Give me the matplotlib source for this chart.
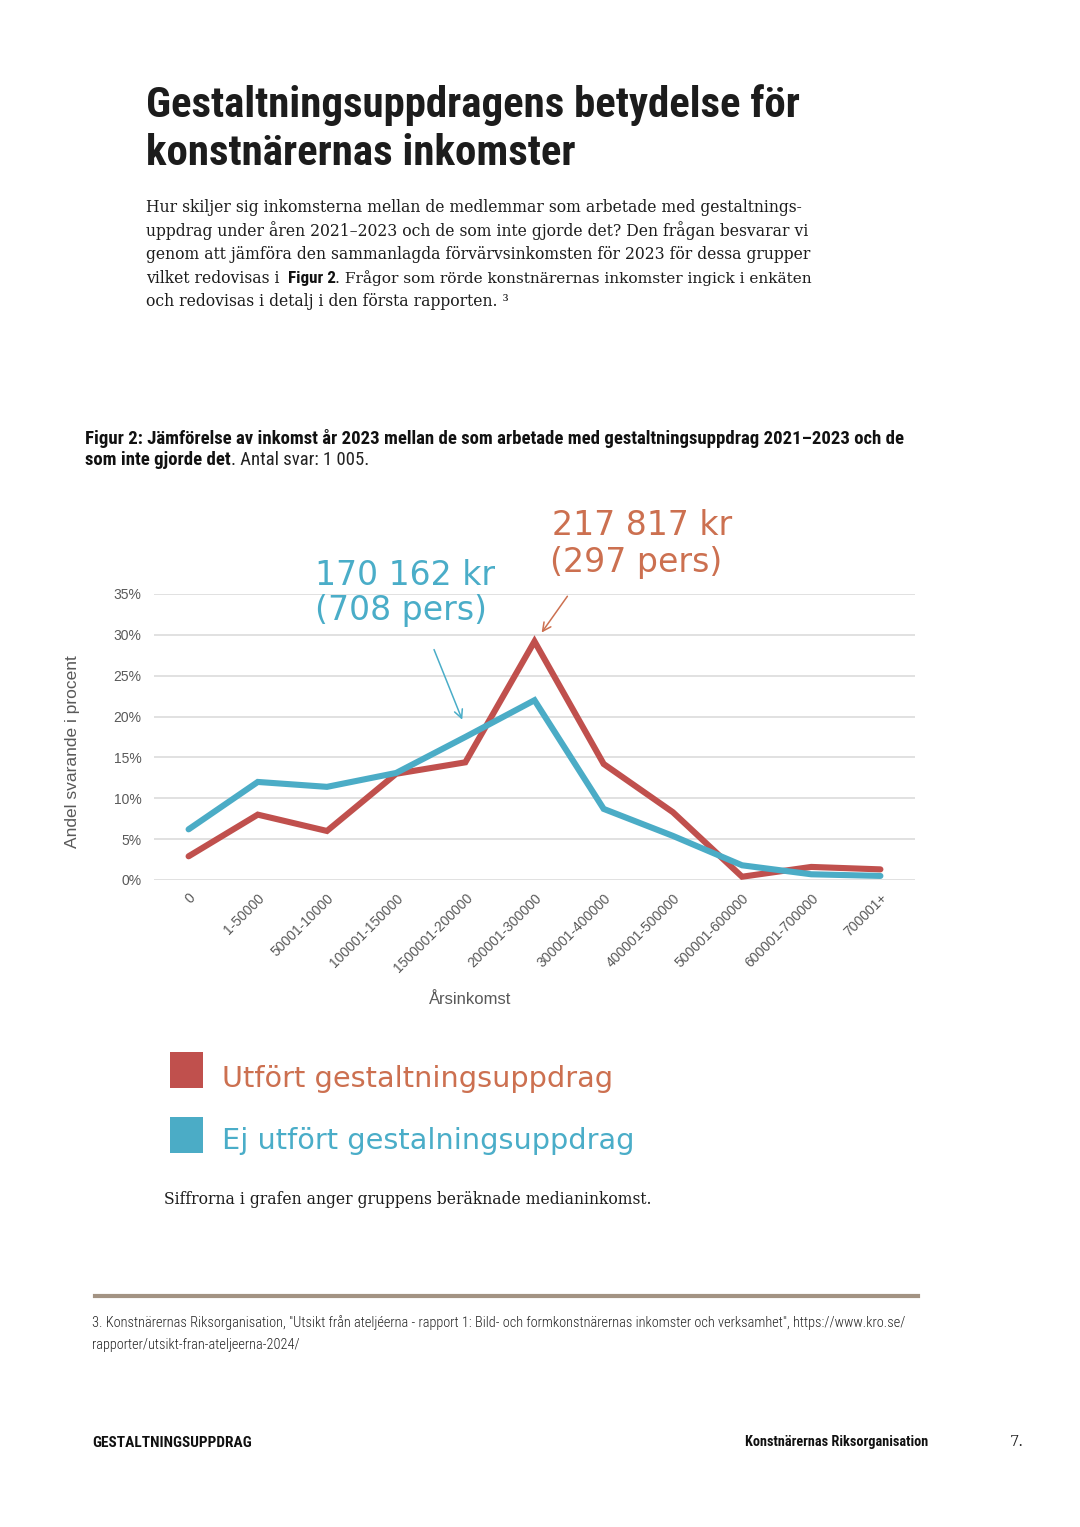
import numpy as np
import matplotlib
matplotlib.use('Agg')
import matplotlib.pyplot as plt
from matplotlib import font_manager as fm
from matplotlib.patches import Rectangle
from matplotlib.lines import Line2D

# Data (andel svarande i procent)
categories = ['0', '1-50000', '50001-10000', '100001-150000', '1500001-200000',
              '200001-300000', '300001-400000', '400001-500000', '500001-600000',
              '600001-700000', '700001+']
utfort = [2.9, 8.0, 6.0, 13.0, 14.4, 29.2, 14.2, 8.3, 0.4, 1.6, 1.3]
ej_utfort = [6.2, 12.0, 11.4, 13.1, 17.5, 22.0, 8.7, 5.4, 1.8, 0.7, 0.5]
yticks = [0, 5, 10, 15, 20, 25, 30, 35]

RED = '#C0504D'
BLUE = '#4BACC6'
ORANGE_TXT = '#CC7050'
BLUE_TXT = '#4AADC8'
GRAY = '#595959'

W, H = 1080, 1527
fig = plt.figure(figsize=(W / 100, H / 100), dpi=100)
fig.patch.set_facecolor('white')
r = fig.canvas.get_renderer()

# font choices
names = {f.name for f in fm.fontManager.ttflist}
if 'Roboto Condensed' in names:
    COND = dict(family='Roboto Condensed')
elif 'Liberation Sans Narrow' in names:
    COND = dict(family='Liberation Sans Narrow')
else:
    COND = dict(family='DejaVu Sans', fontstretch='condensed')
SERIF = dict(family='DejaVu Serif')
ARIAL = dict(family='Liberation Sans')
HAND = dict(family='DejaVu Sans')


def px(x, y):
    return x / W, 1 - y / H


def fit(s, width, **kw):
    t = fig.text(0, 0, s, fontsize=20, **kw)
    w = t.get_window_extent(r).width
    t.remove()
    return 20 * width / w


def txt(x, y, s, size, **kw):
    kw.setdefault('va', 'baseline')
    return fig.text(*px(x, y), s, fontsize=size, **kw)


def runs(x, y, parts):
    # parts: list of (string, size, props, gap after in px)
    for s, size, props, gap in parts:
        t = txt(x, y, s, size, **props)
        x += t.get_window_extent(r).width + gap


INK = '#1c1c1c'

# Title
ts = fit('Gestaltningsuppdragens betydelse för', 652, fontweight='bold', **COND)
txt(146, 117, 'Gestaltningsuppdragens betydelse för', ts, fontweight='bold', color=INK, **COND)
txt(146, 165, 'konstnärernas inkomster', ts, fontweight='bold', color=INK, **COND)

# Intro paragraph
ps = fit('Hur skiljer sig inkomsterna mellan de medlemmar som arbetade med gestaltnings-', 657, **SERIF)
para = ['Hur skiljer sig inkomsterna mellan de medlemmar som arbetade med gestaltnings-',
        'uppdrag under åren 2021–2023 och de som inte gjorde det? Den frågan besvarar vi',
        'genom att jämföra den sammanlagda förvärvsinkomsten för 2023 för dessa grupper']
for i, line in enumerate(para):
    txt(146, 212 + i * 23.6, line, ps, color=INK, **SERIF)
runs(146, 212 + 3 * 23.6, [('vilket redovisas i', ps, dict(color=INK, **SERIF), 8),
                           ('Figur 2', ps * 1.1, dict(color='#111111', fontweight='bold', **COND), 0),
                           ('. Frågor som rörde konstnärernas inkomster ingick i enkäten', ps * 0.985,
                            dict(color=INK, **SERIF), 0)])
txt(146, 212 + 4 * 23.6, 'och redovisas i detalj i den första rapporten. ³', ps, color=INK, **SERIF)

# Figure caption
cap1 = 'Figur 2: Jämförelse av inkomst år 2023 mellan de som arbetade med gestaltningsuppdrag 2021–2023 och de'
cs = fit(cap1, 818, fontweight='bold', **COND)
txt(85, 444, cap1, cs, fontweight='bold', color='#111111', **COND)
runs(85, 465, [('som inte gjorde det', cs, dict(fontweight='bold', color='#111111', **COND), 0),
               ('. Antal svar: 1 005.', cs, dict(color='#222222', **COND), 0)])

# Chart
ax = fig.add_axes([154 / W, 1 - 880 / H, (915 - 154) / W, (880 - 594) / H])
x = np.arange(len(categories))
ax.plot(x, utfort, color=RED, lw=4.4, solid_joinstyle='miter', solid_capstyle='round', zorder=3)
ax.plot(x, ej_utfort, color=BLUE, lw=4.4, solid_joinstyle='miter', solid_capstyle='round', zorder=3)
ax.set_xlim(-0.5, len(categories) - 0.5)
ax.set_ylim(0, 35)
ax.set_yticks(yticks)
ax.set_yticklabels([f'{v}%' for v in yticks])
ax.set_xticks(x)
ax.set_xticklabels(categories, rotation=45, ha='right', va='top', rotation_mode='anchor')
ax.yaxis.grid(True, color='#D9D9D9', lw=1.1)
ax.set_axisbelow(True)
for s in ax.spines.values():
    s.set_visible(False)
ax.tick_params(axis='both', length=0, labelsize=10, labelcolor=GRAY)
ax.tick_params(axis='y', pad=9)
ax.tick_params(axis='x', pad=8)
for lab in ax.get_xticklabels() + ax.get_yticklabels():
    lab.set_family('Liberation Sans')

txt(73, 752, 'Andel svarande i procent', 12.5, rotation=90, ha='center', va='center', color=GRAY, **ARIAL)
txt(470, 1004, 'Årsinkomst', 12, ha='center', color=GRAY, **ARIAL)

# Hand-written annotations
hs = fit('170 162 kr', 180, **HAND)
txt(315, 585, '170 162 kr', hs, color=BLUE_TXT, **HAND)
txt(315, 620, '(708 pers)', hs, color=BLUE_TXT, **HAND)
txt(552, 535, '217 817 kr', hs, color=ORANGE_TXT, **HAND)
txt(550, 572, '(297 pers)', hs, color=ORANGE_TXT, **HAND)
ax.annotate('', xy=(3.97, 19.3), xycoords='data', xytext=px(433, 647), textcoords='figure fraction',
            arrowprops=dict(arrowstyle='->,head_length=0.6,head_width=0.3', color=BLUE_TXT, lw=1.1))
ax.annotate('', xy=(5.08, 30.0), xycoords='data', xytext=px(569, 594), textcoords='figure fraction',
            arrowprops=dict(arrowstyle='->,head_length=0.6,head_width=0.3', color=ORANGE_TXT, lw=1.1),
            annotation_clip=False)

# Legend
fig.patches.append(Rectangle(px(170, 1088), 33 / W, 36 / H, transform=fig.transFigure,
                             facecolor=RED, edgecolor='none'))
fig.patches.append(Rectangle(px(170, 1153), 33 / W, 36 / H, transform=fig.transFigure,
                             facecolor=BLUE, edgecolor='none'))
ls = fit('Utfört gestaltningsuppdrag', 390, **HAND)
txt(222, 1087, 'Utfört gestaltningsuppdrag', ls, color=ORANGE_TXT, **HAND)
txt(222, 1149, 'Ej utfört gestalningsuppdrag', ls, color=BLUE_TXT, **HAND)

txt(164, 1204, 'Siffrorna i grafen anger gruppens beräknade medianinkomst.', ps, color=INK, **SERIF)

# Footer
fig.add_artist(Line2D([95 / W, 918 / W], [1 - 1296 / H] * 2, color='#A39383', lw=3,
                      transform=fig.transFigure))
note = ('3. Konstnärernas Riksorganisation, "Utsikt från ateljéerna - rapport 1: Bild- och '
        'formkonstnärernas inkomster och verksamhet", https://www.kro.se/')
fs = fit(note, 815, fontweight='light', **COND)
txt(92, 1327, note, fs, color='#222222', fontweight='light', **COND)
txt(92, 1349, 'rapporter/utsikt-fran-ateljeerna-2024/', fs, color='#222222', fontweight='light', **COND)

bs = fit('GESTALTNINGSUPPDRAG', 160, fontweight='bold', **COND)
txt(92, 1447, 'GESTALTNINGSUPPDRAG', bs, fontweight='bold', color='#111111', **COND)
ks = fit('Konstnärernas Riksorganisation', 182, fontweight='bold', **COND)
txt(928, 1446, 'Konstnärernas Riksorganisation', ks, fontweight='bold', color='#111111', ha='right', **COND)
txt(1010, 1446, '7.', ps * 0.95, color='#222222', **SERIF)

fig.savefig('out.png', dpi=100, facecolor='white')
